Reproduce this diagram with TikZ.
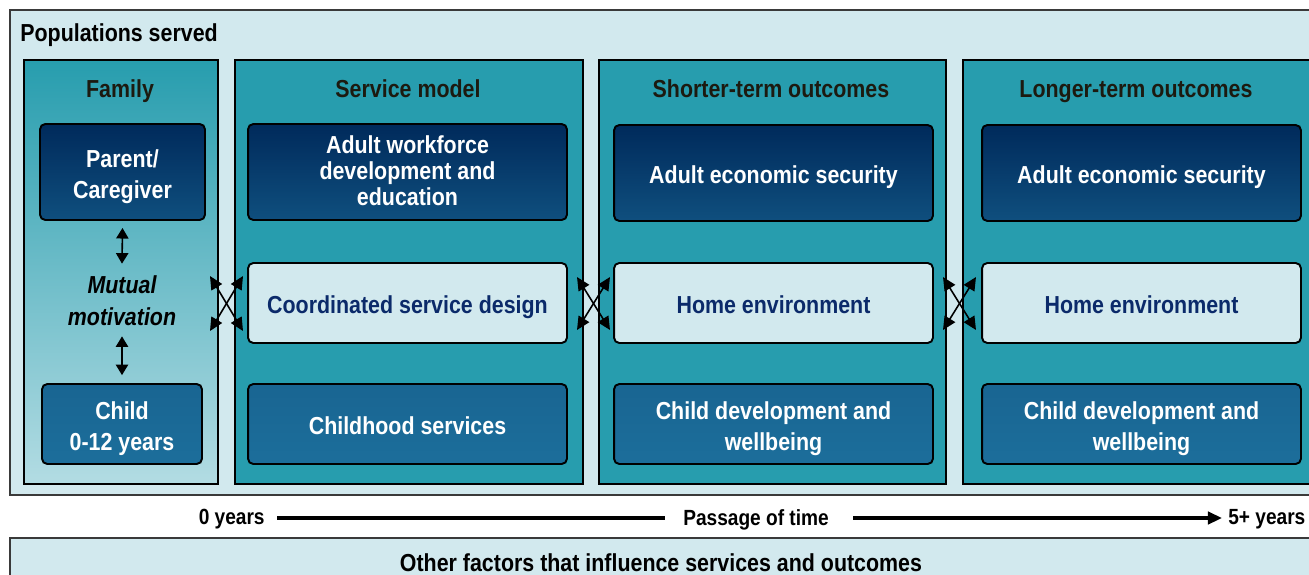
\documentclass[tikz,border=0pt]{standalone}
\usepackage{fontspec}
\setmainfont{Liberation Sans}[FakeStretch=0.87]
\usetikzlibrary{arrows.meta}
\definecolor{bglight}{HTML}{D2E9EE}
\definecolor{teal}{HTML}{279DAE}
\definecolor{tealpale}{HTML}{B3DCE3}
\definecolor{navyT}{HTML}{002A5B}
\definecolor{navyB}{HTML}{0F4F7E}
\definecolor{midT}{HTML}{196592}
\definecolor{midB}{HTML}{1C6E9B}
\definecolor{navytext}{HTML}{0B2A6A}
\definecolor{headtext}{HTML}{1C1A10}
\definecolor{frame}{HTML}{3A3A3A}
\newcommand{\mainfs}{\fontsize{14}{17.6}\selectfont\bfseries}
\newcommand{\smallfs}{\fontsize{12.5}{15}\selectfont\bfseries}
\newcommand{\topstrut}[1]{\rule{0pt}{#1}}
\newcommand{\botstrut}[1]{\rule[-#1]{0pt}{#1}}
\tikzset{
  panel/.style={draw=frame, line width=1.1pt, fill=bglight},
  column/.style={draw=black, line width=1.2pt, fill=teal},
  colhead/.style={font=\mainfs, text=headtext, inner sep=0pt, anchor=base},
  boxbase/.style={draw=black, line width=1.1pt, rounded corners=3pt, align=center, font=\mainfs, inner sep=0pt},
  oneline/.style={text height=12.5pt, text depth=0pt},
  navybox/.style={boxbase, top color=navyT, bottom color=navyB, text=white},
  midbox/.style={boxbase, top color=midT, bottom color=midB, text=white},
  lightbox/.style={boxbase, fill=bglight, text=navytext},
  dbl/.style={{Triangle[length=6pt,width=7pt]}-{Triangle[length=6pt,width=7pt]}, line width=0.9pt, black},
  cross/.style={{Triangle[length=7.5pt,width=7pt]}-{Triangle[length=7.5pt,width=7pt]}, line width=0.9pt, black},
  timeline/.style={line width=2pt, black},
  plain/.style={font=\smallfs, text=black, inner sep=0pt}
}
\begin{document}
\begin{tikzpicture}[x=0.02cm, y=-0.02cm]
\useasboundingbox (0,0) rectangle (1309,575);
\clip (0,0) rectangle (1309,575);
\fill[white] (0,0) rectangle (1309,575);
% outer panels
\draw[panel] (10,10) rectangle (1335,495);
\draw[panel] (10,538) rectangle (1335,600);
\node[anchor=base west, font=\mainfs, inner sep=0pt] (pop) at (20,41) {Populations served};
% columns
\draw[draw=black, line width=1.2pt, top color=teal, bottom color=tealpale] (24,60) rectangle (218,484);
\draw[column] (235,60) rectangle (583,484);
\draw[column] (599,60) rectangle (946,484);
\draw[column] (963,60) rectangle (1318,484);
% headers
\node[colhead] (hfam) at (120,97.5) {Family};
\node[colhead] (hsvc) at (408,97.5) {Service model};
\node[colhead] (hshort) at (771,97.5) {Shorter-term outcomes};
\node[colhead] (hlong) at (1136,97.5) {Longer-term outcomes};
% family boxes
\node[navybox, minimum width=3.3cm, minimum height=1.92cm] (parent) at (122.5,172) {\topstrut{15pt}Parent/\\Caregiver};
\node[midbox, minimum width=3.2cm, minimum height=1.6cm] (child) at (122,424) {\topstrut{15pt}Child\\0-12 years};
\node[font=\fontsize{14}{18}\selectfont\bfseries\itshape, align=center, inner sep=0pt, minimum height=1.44cm] (mm) at (122,300) {\topstrut{11pt}Mutual\\motivation};
\draw[dbl] ([yshift=-4pt]parent.south) -- (mm.north);
\draw[dbl] (mm.south) -- ([yshift=4.5pt]child.north);
% service model
\node[navybox, minimum width=6.38cm, minimum height=1.92cm, font=\fontsize{14}{15}\selectfont\bfseries] (awd) at (407.5,172) {Adult workforce\\development and\\education\botstrut{1.5pt}};
\node[lightbox, oneline, minimum width=6.38cm, minimum height=1.6cm] (csd) at (407.5,303) {Coordinated service design};
\node[midbox, oneline, minimum width=6.38cm, minimum height=1.6cm] (chs) at (407.5,424) {Childhood services};
% shorter-term
\node[navybox, oneline, minimum width=6.38cm, minimum height=1.92cm] (aes1) at (773.5,173) {Adult economic security};
\node[lightbox, oneline, minimum width=6.38cm, minimum height=1.6cm] (home1) at (773.5,303) {Home environment};
\node[midbox, minimum width=6.38cm, minimum height=1.6cm] (cdw1) at (773.5,424) {\topstrut{15pt}Child development and\\wellbeing};
% longer-term
\node[navybox, oneline, minimum width=6.38cm, minimum height=1.92cm] (aes2) at (1141.5,173) {Adult economic security};
\node[lightbox, oneline, minimum width=6.38cm, minimum height=1.6cm] (home2) at (1141.5,303) {Home environment};
\node[midbox, minimum width=6.38cm, minimum height=1.6cm] (cdw2) at (1141.5,424) {\topstrut{15pt}Child development and\\wellbeing};
% crossing arrows
\coordinate (a1) at (210,276); \coordinate (a2) at (243,276);
\coordinate (a3) at (210,331); \coordinate (a4) at (243,331);
\draw[cross] (a1) -- (a4); \draw[cross] (a2) -- (a3);
\coordinate (b1) at (577,277); \coordinate (b2) at (610,277);
\coordinate (b3) at (577,330); \coordinate (b4) at (610,330);
\draw[cross] (b1) -- (b4); \draw[cross] (b2) -- (b3);
\coordinate (c1) at (943,277); \coordinate (c2) at (976,277);
\coordinate (c3) at (943,330); \coordinate (c4) at (976,330);
\draw[cross] (c1) -- (c4); \draw[cross] (c2) -- (c3);
% timeline
\node[plain, anchor=base east] (t0) at (265,524) {0 years};
\node[plain, anchor=base] (tmid) at (756,525) {Passage of time};
\node[plain, anchor=base west] (t5) at (1228,524) {5+ years};
\coordinate (l0) at (277,518); \coordinate (l1) at (665,518);
\coordinate (l2) at (853,518); \coordinate (l3) at (1222,518);
\draw[timeline] (l0) -- (l1);
\draw[timeline, -{Triangle[length=8pt,width=7pt]}] (l2) -- (l3);
% other factors
\node[font=\mainfs, inner sep=0pt, anchor=base] (other) at (661,571) {Other factors that influence services and outcomes};
\end{tikzpicture}
\end{document}
